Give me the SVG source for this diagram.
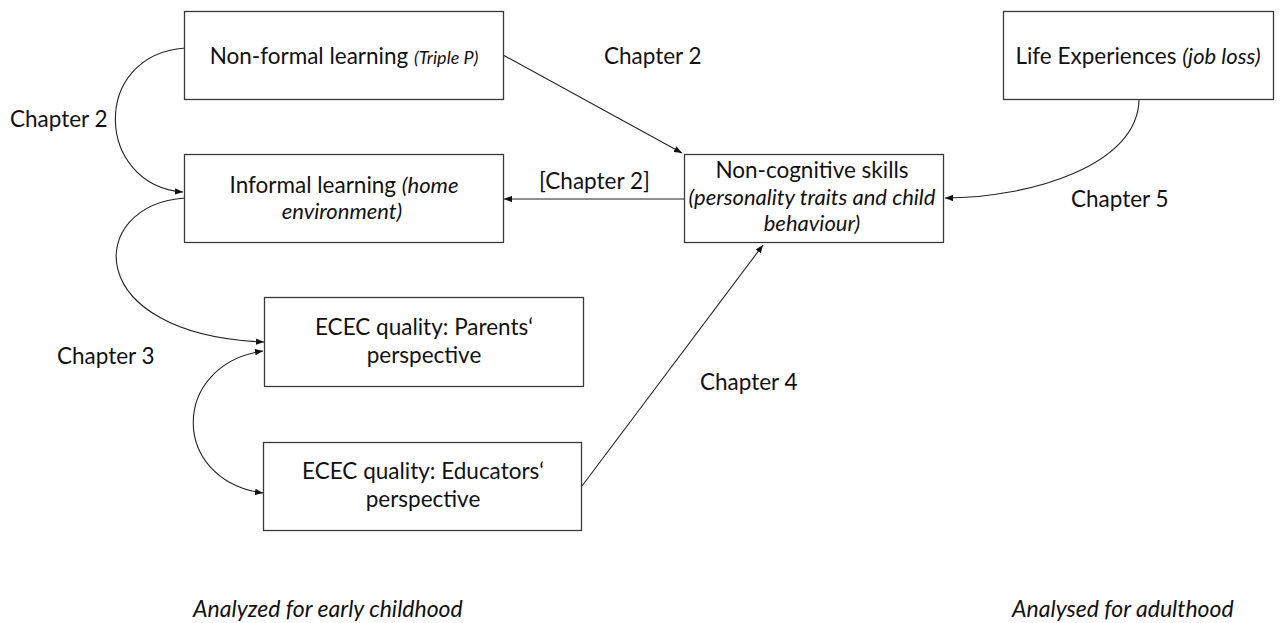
<svg xmlns="http://www.w3.org/2000/svg" width="1285" height="623" viewBox="0 0 1285 623">
  <style>
    .box { fill: #ffffff; stroke: #3a3a3a; stroke-width: 1.3; }
    .lbl { font-family: Lato, "Liberation Sans", sans-serif; font-size: 22.5px; fill: #111; }
    .it { font-style: italic; font-size: 22px; }
    .small { font-size: 18px; }
    .cap { font-size: 23px; }
    .c { text-anchor: middle; }
    .edge { fill: none; stroke: #222; stroke-width: 1.1; }
  </style>
  <defs>
    <marker id="arrow" viewBox="0 0 10 8" refX="10" refY="4" markerWidth="8" markerHeight="6.5" markerUnits="userSpaceOnUse" orient="auto-start-reverse">
      <path d="M0,0 L10,4 L0,8 Z" fill="#111"/>
    </marker>
  </defs>

  <rect width="1285" height="623" fill="#ffffff"/>

  <!-- connectors -->
  <g id="connectors">
    <path class="edge" d="M185,48 C90,55 95,185 183,192" marker-end="url(#arrow)"/>
    <path class="edge" d="M185,198 C85,205 80,335 264,342" marker-end="url(#arrow)"/>
    <path class="edge" d="M263,351 C170,365 170,480 263,493" marker-start="url(#arrow)" marker-end="url(#arrow)"/>
    <path class="edge" d="M503,55 L682,153" marker-end="url(#arrow)"/>
    <path class="edge" d="M684,199 L504,199" marker-end="url(#arrow)"/>
    <path class="edge" d="M582,486 L763,245" marker-end="url(#arrow)"/>
    <path class="edge" d="M1139,99 C1139,165 1030,198 945,198" marker-end="url(#arrow)"/>
  </g>

  <!-- nodes -->
  <g id="node-nonformal">
    <rect class="box" x="184.5" y="11.5" width="319" height="88"/>
    <text class="lbl c" x="344" y="64">Non-formal learning <tspan class="it small">(Triple P)</tspan></text>
  </g>

  <g id="node-informal">
    <rect class="box" x="184.5" y="154.5" width="319" height="88"/>
    <text class="lbl c" x="344" y="193">Informal learning <tspan class="it">(home</tspan></text>
    <text class="lbl c it" x="342" y="219">environment)</text>
  </g>

  <g id="node-parents">
    <rect class="box" x="264.5" y="297.5" width="319" height="89"/>
    <text class="lbl c" x="424" y="335">ECEC quality: Parents‘</text>
    <text class="lbl c" x="424" y="363">perspective</text>
  </g>

  <g id="node-educators">
    <rect class="box" x="263.5" y="442.5" width="318" height="88"/>
    <text class="lbl c" x="423" y="479">ECEC quality: Educators‘</text>
    <text class="lbl c" x="423" y="507">perspective</text>
  </g>

  <g id="node-noncognitive">
    <rect class="box" x="684.5" y="154.5" width="259" height="88"/>
    <text class="lbl c" x="812" y="178">Non-cognitive skills</text>
    <text class="lbl c it" x="812" y="205">(personality traits and child</text>
    <text class="lbl c it" x="812" y="231">behaviour)</text>
  </g>

  <g id="node-life">
    <rect class="box" x="1003.5" y="11.5" width="270" height="88"/>
    <text class="lbl c" x="1138" y="64">Life Experiences <tspan class="it">(job loss)</tspan></text>
  </g>

  <!-- edge labels -->
  <g id="labels">
    <text class="lbl" x="10" y="127">Chapter 2</text>
    <text class="lbl" x="604" y="64">Chapter 2</text>
    <text class="lbl" x="539" y="189">[Chapter 2]</text>
    <text class="lbl" x="1071" y="207">Chapter 5</text>
    <text class="lbl" x="57" y="364">Chapter 3</text>
    <text class="lbl" x="700" y="390">Chapter 4</text>
    <text class="lbl it cap" x="193" y="617">Analyzed for early childhood</text>
    <text class="lbl it cap" x="1012" y="617">Analysed for adulthood</text>
  </g>
</svg>
